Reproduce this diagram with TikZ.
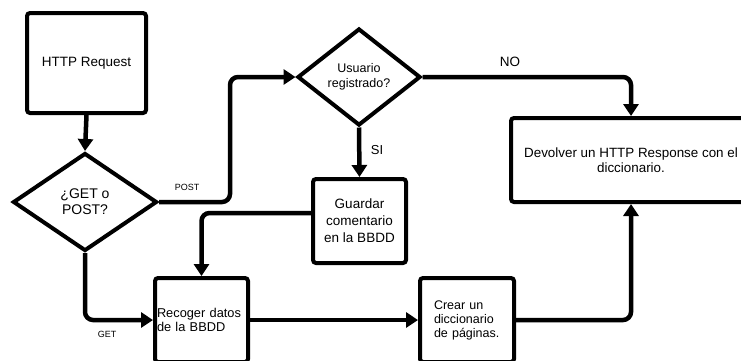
\documentclass[tikz,border=0pt]{standalone}
\usepackage{fontspec}
\setmainfont{Liberation Sans}
\usetikzlibrary{shapes.geometric,arrows.meta}

\begin{document}
\begin{tikzpicture}[x=1pt, y=-1pt,
    proceso/.style={draw, line width=4pt, rounded corners=3pt, inner sep=2pt},
    decision/.style={draw, diamond, line width=4pt, inner sep=0pt, align=center},
    flecha/.style={line width=4.5pt, rounded corners=8pt, -{Triangle[length=12pt,width=15pt]}},
    etiqueta/.style={font=\fontsize{9}{11}\selectfont}]
    \useasboundingbox (0,0) rectangle (741,360);
    \clip (0,0) rectangle (741,360);

    \node[proceso, minimum width=119pt, minimum height=100pt,
        font=\fontsize{13.5}{16}\selectfont] (req) at (86.5,63) {HTTP Request};
    \node[decision, minimum width=144pt, minimum height=98pt,
        font=\fontsize{14}{16}\selectfont] (tipo) at (85,202) {¿GET o\\POST?};
    \node[decision, minimum width=123pt, minimum height=97pt,
        font=\fontsize{12.5}{15}\selectfont] (usuario) at (359,77) {Usuario\\registrado?};
    \node[proceso, minimum width=93pt, minimum height=84pt, align=center,
        font=\fontsize{13.5}{17}\selectfont] (guardar) at (359.5,221) {Guardar\\comentario\\en la BBDD};
    \node[proceso, minimum width=240pt, minimum height=84pt, align=center,
        font=\fontsize{13.4}{15}\selectfont] (devolver) at (631,160) {Devolver un HTTP Response con el\\diccionario.};
    \node[proceso, minimum width=93pt, minimum height=84pt, text width=89pt, align=left,
        font=\fontsize{12.8}{14}\selectfont] (recoger) at (201.5,320) {Recoger datos\\de la BBDD};
    \node[proceso, minimum width=94pt, minimum height=84pt, text width=66pt, align=left,
        font=\fontsize{12.5}{14}\selectfont] (crear) at (467,320) {Crear un\\diccionario\\de páginas.};

    % conectores
    \draw[flecha] (req.south) -- (tipo.north);
    \draw[flecha] (tipo.east) -- ++(71,0) |- (usuario.west);
    \draw[flecha] (usuario.east) -| (devolver.north);
    \draw[flecha] (usuario.south) -- (guardar.north);
    \draw[flecha] ([yshift=8pt]guardar.west) -| (recoger.north);
    \draw[flecha] (tipo.south) |- (recoger.west);
    \draw[flecha] (recoger.east) -- (crear.west);
    \draw[flecha] (crear.east) -| (devolver.south);

    % etiquetas
    \node[etiqueta] (post) at (187,187) {POST};
    \node[etiqueta] (get) at (107,334) {GET};
    \node[font=\fontsize{13.5}{16}\selectfont] (no) at (510,62) {NO};
    \node[font=\fontsize{13}{16}\selectfont] (si) at (377,150) {SI};
\end{tikzpicture}
\end{document}
